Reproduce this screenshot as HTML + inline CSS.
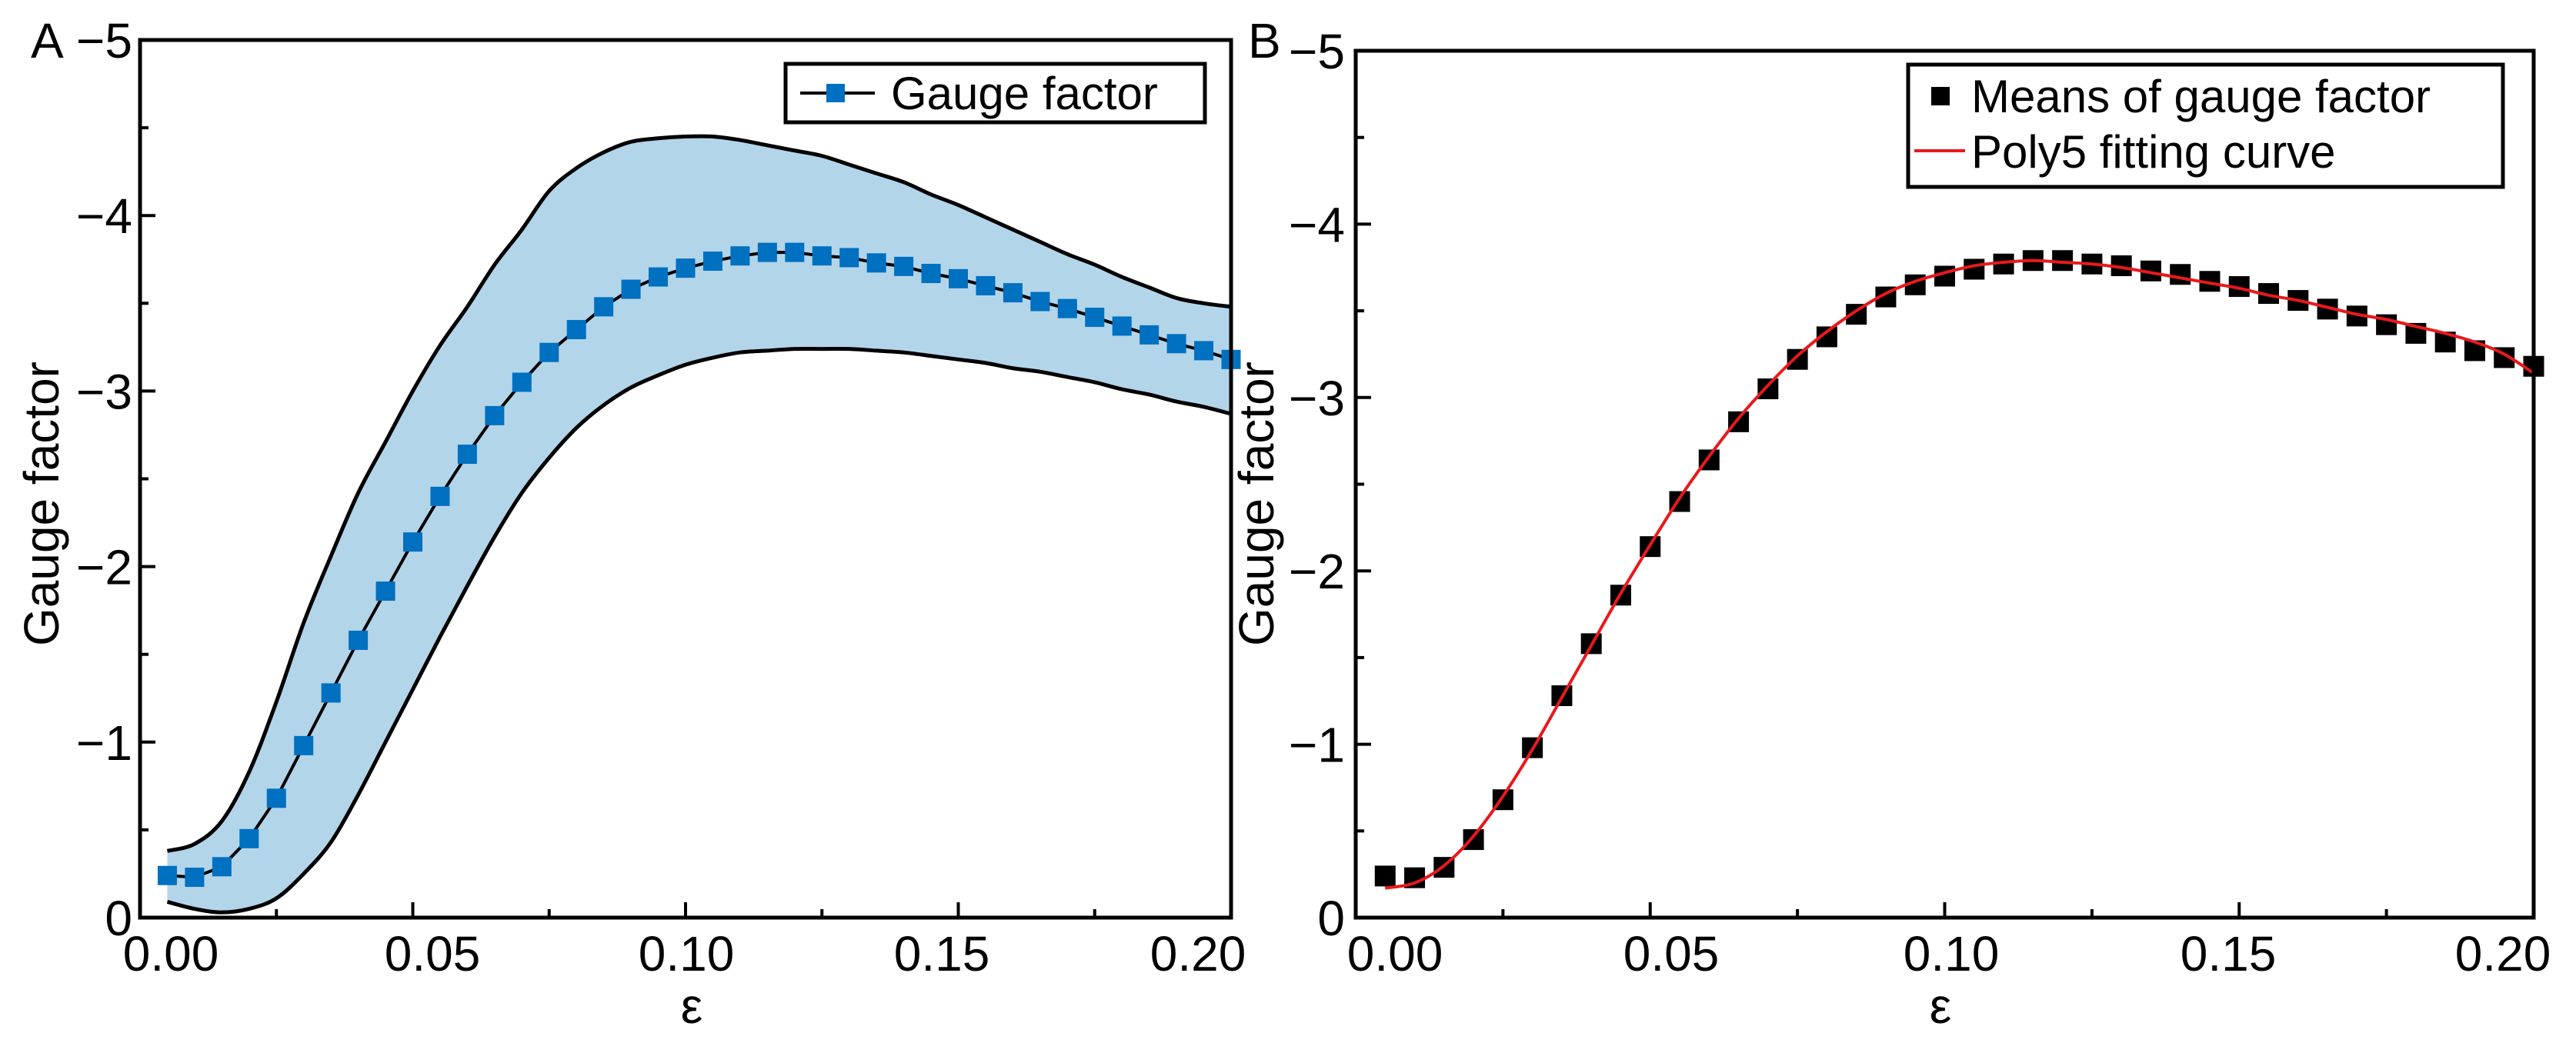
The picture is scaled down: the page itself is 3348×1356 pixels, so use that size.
<!DOCTYPE html>
<html><head><meta charset="utf-8"><style>
html,body{margin:0;padding:0;background:#fff;}
svg text{font-family:"Liberation Sans",sans-serif;fill:#000;}
</style></head><body>
<svg id="fig" width="3348" height="1351" viewBox="0 0 3348 1351" xmlns="http://www.w3.org/2000/svg"></svg>
<script>
const strain = [];
for (let i = 0; i < 40; i++) strain.push(0.005 * (i + 1));
const meanGF = [-0.24,-0.23,-0.29,-0.45,-0.68,-0.98,-1.28,-1.58,-1.86,-2.14,-2.40,-2.64,-2.86,-3.05,-3.22,-3.35,-3.48,-3.58,-3.65,-3.70,-3.74,-3.77,-3.79,-3.79,-3.77,-3.76,-3.73,-3.71,-3.67,-3.64,-3.60,-3.56,-3.51,-3.47,-3.42,-3.37,-3.32,-3.27,-3.23,-3.18];
const upperGF = [-0.38,-0.42,-0.55,-0.83,-1.23,-1.68,-2.06,-2.42,-2.71,-3.00,-3.26,-3.48,-3.72,-3.92,-4.14,-4.27,-4.36,-4.42,-4.44,-4.45,-4.45,-4.43,-4.40,-4.37,-4.34,-4.29,-4.24,-4.19,-4.12,-4.06,-3.99,-3.92,-3.85,-3.78,-3.72,-3.65,-3.59,-3.53,-3.50,-3.48];
const lowerGF = [-0.09,-0.05,-0.03,-0.05,-0.11,-0.25,-0.43,-0.70,-1.00,-1.30,-1.60,-1.89,-2.17,-2.42,-2.62,-2.79,-2.92,-3.02,-3.09,-3.15,-3.19,-3.22,-3.23,-3.24,-3.24,-3.24,-3.23,-3.22,-3.20,-3.18,-3.16,-3.13,-3.11,-3.08,-3.05,-3.01,-2.98,-2.94,-2.91,-2.87];
const fitGF = [-0.17,-0.20,-0.30,-0.47,-0.70,-0.97,-1.27,-1.57,-1.87,-2.15,-2.42,-2.66,-2.88,-3.07,-3.24,-3.38,-3.50,-3.60,-3.67,-3.72,-3.76,-3.78,-3.79,-3.78,-3.77,-3.75,-3.72,-3.69,-3.66,-3.63,-3.59,-3.56,-3.52,-3.48,-3.45,-3.41,-3.37,-3.32,-3.25,-3.14];
const xTicks = [0, 0.05, 0.10, 0.15, 0.20];
const xTickLabels = ["0.00","0.05","0.10","0.15","0.20"];
const yTicks = [0,-1,-2,-3,-4,-5];
const yTickLabels = ["0","\u22121","\u22122","\u22123","\u22124","\u22125"];

const NS = "http://www.w3.org/2000/svg";
const svg = document.getElementById('fig');
function el(tag, attrs, parent, text) {
  const e = document.createElementNS(NS, tag);
  for (const k in attrs) e.setAttribute(k, attrs[k]);
  if (text !== undefined) e.textContent = text;
  (parent || svg).appendChild(e);
  return e;
}
function smoothPath(pts) {
  let d = "M" + pts[0][0] + "," + pts[0][1];
  for (let i = 0; i < pts.length - 1; i++) {
    const p0 = pts[Math.max(0, i - 1)], p1 = pts[i], p2 = pts[i + 1], p3 = pts[Math.min(pts.length - 1, i + 2)];
    const c1x = p1[0] + (p2[0] - p0[0]) / 6, c1y = p1[1] + (p2[1] - p0[1]) / 6;
    const c2x = p2[0] - (p3[0] - p1[0]) / 6, c2y = p2[1] - (p3[1] - p1[1]) / 6;
    d += " C" + c1x + "," + c1y + " " + c2x + "," + c2y + " " + p2[0] + "," + p2[1];
  }
  return d;
}

function panel(cfg) {
  const g = el('g', {});
  
  
  const sx = v => cfg.x0 + (v - 0) / 0.2 * (cfg.x1 - cfg.x0);
  const sy = v => cfg.y0 + (v / -5) * (cfg.y1 - cfg.y0);
  cfg.draw(g, sx, sy);
  const f = el('rect', {x: cfg.x0, y: cfg.y1, width: cfg.x1 - cfg.x0, height: cfg.y0 - cfg.y1, fill: 'none', stroke: '#000', 'stroke-width': 5}, g);
  
  
  for (let v = 0.025; v < 0.2; v += 0.025) {
    const major = Math.abs(v / 0.05 - Math.round(v / 0.05)) < 1e-6;
    const t = el('line', {x1: sx(v), x2: sx(v), y1: cfg.y0, y2: cfg.y0 - (major ? 20 : 11), stroke: '#000', 'stroke-width': 4}, g);
    
    
  }
  xTicks.forEach((v, i) => {
    const t = el('text', {x: cfg.xLabelPos[i], y: 1262, 'font-size': 64, 'text-anchor': 'middle'}, g, xTickLabels[i]);
    
    
  });
  for (let v = -0.5; v > -5; v -= 0.5) {
    const major = Math.abs(v - Math.round(v)) < 1e-6;
    const t = el('line', {x1: cfg.x0, x2: cfg.x0 + (major ? 20 : 11), y1: sy(v), y2: sy(v), stroke: '#000', 'stroke-width': 4}, g);
    
    
  }
  yTicks.forEach((v, i) => {
    const t = el('text', {x: cfg.yLabelRight, y: sy(v) + 23, 'font-size': 64, 'text-anchor': 'end'}, g, yTickLabels[i]);
    
    
  });
  const yt = el('text', {x: 0, y: 0, 'font-size': 64, 'text-anchor': 'middle', transform: 'translate(' + (cfg.yTitleX) + ',655) rotate(-90)'}, g, 'Gauge factor');
  
  
  const xt = el('text', {x: cfg.xTitleX, y: 1330, 'font-size': 64, 'text-anchor': 'middle'}, g, '\u03b5');
  
  
  const pl = el('text', {x: cfg.letterX, y: 75, 'font-size': 64}, g, cfg.letter);
  
  
  return g;
}

panel({
  name: 'panel-a', letter: 'A', letterX: 40,
  x0: 182, x1: 1600, y0: 1193, y1: 52,
  xLabelPos: [222, 562, 892, 1224, 1557], yLabelRight: 172, yTitleX: 76, xTitleX: 899,
  draw: (g, sx, sy) => {
    const up = strain.map((x, i) => [sx(x), sy(upperGF[i])]);
    const lo = strain.map((x, i) => [sx(x), sy(lowerGF[i])]);
    const band = el('path', {d: smoothPath(up) + " L" + smoothPath(lo.slice().reverse()).slice(1) + " Z", fill: '#b3d5ea', stroke: 'none'}, g);
    
    
    const ul = el('path', {d: smoothPath(up), fill: 'none', stroke: '#000', 'stroke-width': 5}, g);
    
    
    const ll = el('path', {d: smoothPath(lo), fill: 'none', stroke: '#000', 'stroke-width': 5}, g);
    
    
    const ml = el('polyline', {points: strain.map((x, i) => sx(x) + "," + sy(meanGF[i])).join(" "), fill: 'none', stroke: '#000', 'stroke-width': 4}, g);
    
    
    strain.forEach((x, i) => {
      const m = el('rect', {x: sx(x) - 12.5, y: sy(meanGF[i]) - 12.5, width: 25, height: 25, fill: '#0070c0'}, g);
      
      
    });
    const lg = el('g', {}, g);
    
    
    el('rect', {x: 1021, y: 83, width: 545, height: 76, fill: '#fff', stroke: '#000', 'stroke-width': 5}, lg);
    el('line', {x1: 1040, x2: 1137, y1: 121, y2: 121, stroke: '#000', 'stroke-width': 4}, lg);
    el('rect', {x: 1074, y: 109, width: 24, height: 24, fill: '#0070c0'}, lg);
    const lt = el('text', {x: 1158, y: 142, 'font-size': 60}, lg, 'Gauge factor');
    
    
  }
});

panel({
  name: 'panel-b', letter: 'B', letterX: 1622,
  x0: 1762, x1: 3293, y0: 1193, y1: 66,
  xLabelPos: [1813, 2172, 2536, 2896, 3253], yLabelRight: 1748, yTitleX: 1655, xTitleX: 2522,
  draw: (g, sx, sy) => {
    strain.forEach((x, i) => {
      const m = el('rect', {x: sx(x) - 13.5, y: sy(meanGF[i]) - 13.5, width: 27, height: 27, fill: '#000'}, g);
      
      
    });
    const fit = el('path', {d: smoothPath(strain.map((x, i) => [sx(x), sy(fitGF[i])])), fill: 'none', stroke: '#e8191c', 'stroke-width': 4}, g);
    
    
    const lg = el('g', {}, g);
    
    
    el('rect', {x: 2480, y: 84, width: 773, height: 159, fill: '#fff', stroke: '#000', 'stroke-width': 5}, lg);
    el('rect', {x: 2510, y: 113, width: 24, height: 24, fill: '#000'}, lg);
    const t1 = el('text', {x: 2562, y: 146, 'font-size': 60}, lg, 'Means of gauge factor');
    
    
    el('line', {x1: 2488, x2: 2554, y1: 196, y2: 196, stroke: '#e8191c', 'stroke-width': 4}, lg);
    const t2 = el('text', {x: 2562, y: 218, 'font-size': 60}, lg, 'Poly5 fitting curve');
    
    
  }
});
</script>
</body></html>
